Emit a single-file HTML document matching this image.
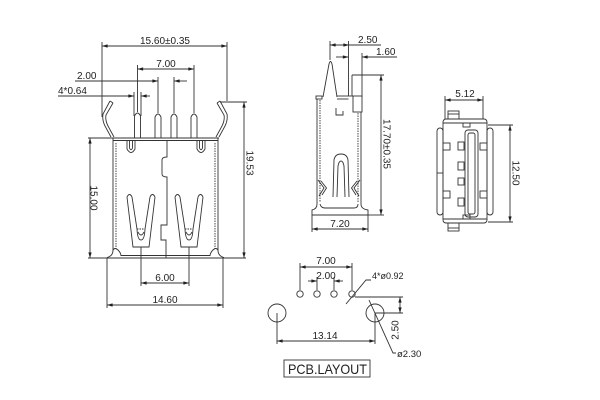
<!DOCTYPE html>
<html><head><meta charset="utf-8"><style>
html,body{margin:0;padding:0;background:#fff;}
svg{display:block;}
text{font-family:"Liberation Sans",Arial,sans-serif;font-size:10px;fill:#222;stroke:none;}
</style></head><body>
<svg width="600" height="400" viewBox="0 0 600 400" xmlns="http://www.w3.org/2000/svg">
<defs>
<marker id="a" viewBox="0 0 10 6" refX="10" refY="3" markerWidth="6" markerHeight="3.4" orient="auto-start-reverse" markerUnits="userSpaceOnUse"><path d="M0,0L10,3L0,6z" fill="#222"/></marker>
</defs>
<rect width="600" height="400" fill="#fff"/>
<g fill="none" stroke="#333" stroke-width="0.9">
<!-- ================= LEFT VIEW ================= -->
<!-- 15.60 -->
<line x1="102" y1="46" x2="227" y2="46" marker-start="url(#a)" marker-end="url(#a)"/>
<line x1="102" y1="42" x2="102" y2="117"/>
<line x1="227" y1="42" x2="227" y2="101"/>
<!-- 7.00 -->
<line x1="137.5" y1="69" x2="194" y2="69" marker-start="url(#a)" marker-end="url(#a)"/>
<line x1="137.5" y1="65" x2="137.5" y2="112"/>
<line x1="194" y1="65" x2="194" y2="113"/>
<!-- 2.00 -->
<line x1="75" y1="81" x2="158" y2="81" marker-end="url(#a)"/>
<line x1="187" y1="81" x2="174" y2="81" marker-end="url(#a)"/>
<line x1="158" y1="77" x2="158" y2="113"/>
<line x1="174" y1="77" x2="174" y2="113"/>
<!-- 4*0.64 -->
<line x1="58" y1="96" x2="134" y2="96" marker-end="url(#a)"/>
<line x1="150" y1="96" x2="141" y2="96" marker-end="url(#a)"/>
<line x1="134" y1="92" x2="134" y2="116"/>
<line x1="141" y1="92" x2="141" y2="116"/>
<!-- pins -->
<path d="M134.5,138 L134.5,116 Q137.5,110 140.5,116 L140.5,138"/>
<path d="M155,138 L155,117 Q158,111 161,117 L161,138"/>
<path d="M171,138 L171,117 Q174,111 177,117 L177,138"/>
<path d="M191,138 L191,117 Q194,111 197,117 L197,138"/>
<!-- side leads -->
<path d="M110,101 L103,114 Q102,120 105,126 L111,137"/>
<path d="M113,103 L106,115 Q105,120 108,126 L114,137"/>
<path d="M110,101 L113,103"/>
<path d="M220,101 L227,114 Q228,120 225,126 L219,137"/>
<path d="M217,103 L224,115 Q225,120 222,126 L216,137"/>
<path d="M220,101 L217,103"/>
<!-- body -->
<line x1="88" y1="138" x2="219" y2="138"/>
<line x1="113" y1="140.5" x2="218" y2="140.5"/>
<line x1="113" y1="138" x2="113" y2="251"/>
<line x1="218" y1="138" x2="218" y2="251"/>
<line x1="116" y1="143" x2="116" y2="249" stroke-dasharray="1.5 1"/>
<line x1="215" y1="143" x2="215" y2="249" stroke-dasharray="1.5 1"/>
<!-- hooks -->
<path d="M127,140.5 L127,149 Q131,156 135,149 L135,140.5"/>
<path d="M129.5,140.5 L129.5,148 Q131,151.5 132.5,148 L132.5,140.5"/>
<path d="M197,140.5 L197,149 Q201,156 205,149 L205,140.5"/>
<path d="M199.5,140.5 L199.5,148 Q201,151.5 202.5,148 L202.5,140.5"/>
<!-- center notch -->
<path d="M167,140.5 L167,157 Q162,157 162,160 L162,174 Q162,177 167,177 L167,225 L161,225 L161,240 L166,240 L166,258"/>
<!-- bottom -->
<line x1="88" y1="258" x2="246" y2="258"/>
<line x1="121" y1="255.5" x2="210" y2="255.5"/>
<path d="M113,250 Q113,256 107,257.5"/>
<path d="M113,250 Q115,247 118,250 Q121,253 121,256"/>
<path d="M218,250 Q218,256 224,257.5"/>
<path d="M218,250 Q216,247 213,250 Q210,253 210,256"/>
<!-- contacts -->
<g id="ct">
<path d="M127,197 L133,247 L149,247 L155,197"/>
<path d="M127,197 Q129.5,192 132,197"/>
<path d="M150,197 Q152.5,192 155,197"/>
<path d="M132,197 L137,229 Q137.5,240 141,240 Q144.5,240 145,229 L150,197"/>
<path d="M137,229 L145,229" stroke-dasharray="1.5 1"/>
<path d="M138,232 Q141,238 144,232"/>
</g>
<g transform="translate(48,0)">
<path d="M127,197 L133,247 L149,247 L155,197"/>
<path d="M127,197 Q129.5,192 132,197"/>
<path d="M150,197 Q152.5,192 155,197"/>
<path d="M132,197 L137,229 Q137.5,240 141,240 Q144.5,240 145,229 L150,197"/>
<path d="M137,229 L145,229" stroke-dasharray="1.5 1"/>
<path d="M138,232 Q141,238 144,232"/>
</g>
<!-- 15.00 -->
<line x1="90" y1="138" x2="90" y2="258" marker-start="url(#a)" marker-end="url(#a)"/>
<!-- 19.53 -->
<line x1="220" y1="102" x2="247" y2="102"/>
<line x1="244" y1="102" x2="244" y2="258" marker-start="url(#a)" marker-end="url(#a)"/>
<!-- 6.00 -->
<line x1="141" y1="247" x2="141" y2="286"/>
<line x1="189" y1="247" x2="189" y2="286"/>
<line x1="141" y1="283" x2="189" y2="283" marker-start="url(#a)" marker-end="url(#a)"/>
<!-- 14.60 -->
<line x1="107" y1="258" x2="107" y2="308"/>
<line x1="223" y1="258" x2="223" y2="308"/>
<line x1="107" y1="305" x2="223" y2="305" marker-start="url(#a)" marker-end="url(#a)"/>

<!-- ================= MIDDLE VIEW ================= -->
<line x1="330" y1="45" x2="349" y2="45" marker-start="url(#a)" marker-end="url(#a)"/>
<line x1="349" y1="45" x2="381" y2="45"/>
<line x1="330" y1="41" x2="330" y2="60"/>
<line x1="348.5" y1="41" x2="348.5" y2="96"/>
<line x1="336" y1="57" x2="348.5" y2="57" marker-end="url(#a)"/>
<line x1="397" y1="57" x2="362" y2="57" marker-end="url(#a)"/>
<line x1="362" y1="53" x2="362" y2="97"/>
<line x1="352" y1="75" x2="384" y2="75"/>
<line x1="381" y1="75" x2="381" y2="215" marker-start="url(#a)" marker-end="url(#a)"/>
<line x1="368" y1="215" x2="384" y2="215"/>
<!-- pin & top -->
<path d="M323,97 L329,64 Q330.5,59 332,64 L337,97"/>
<rect x="316" y="96" width="6" height="3"/>
<line x1="337" y1="96" x2="353" y2="96"/>
<line x1="337" y1="99" x2="348.5" y2="99"/>
<line x1="352" y1="75" x2="352" y2="96"/>
<rect x="353" y="96" width="9" height="16"/>
<!-- walls -->
<line x1="317" y1="99" x2="317" y2="204"/>
<line x1="320" y1="100" x2="320" y2="202" stroke-dasharray="1.5 1"/>
<line x1="361" y1="112" x2="361" y2="204"/>
<line x1="358" y1="113" x2="358" y2="202" stroke-dasharray="1.5 1"/>
<!-- U mark -->
<path d="M336,108 L336,115 L343,115 L343,111"/>
<!-- spring -->
<path d="M333,197 L334,160 Q335,154 341,154 Q347,154 348,160 L349,197"/>
<path d="M337,197 L338,166 Q339,161 341,161 Q343,161 344,166 L345,197"/>
<!-- latches -->
<path d="M318,180 L324,188 L319,196"/>
<path d="M321,181 L326.5,188 L322,195"/>
<path d="M360,180 L354,188 L359,196"/>
<path d="M357,181 L351.5,188 L356,195"/>
<!-- base -->
<path d="M317,204 Q317,209 312,210 L312,215 L368,215 L368,210 Q361,209 361,204"/>
<path d="M320,204 Q321,208 325,208 L354,208 Q358,208 358,204"/>
<line x1="312" y1="215" x2="312" y2="232"/>
<line x1="368" y1="215" x2="368" y2="232"/>
<line x1="312" y1="229" x2="368" y2="229" marker-start="url(#a)" marker-end="url(#a)"/>

<!-- ================= RIGHT VIEW ================= -->
<line x1="445" y1="96" x2="445" y2="119"/>
<line x1="483" y1="96" x2="483" y2="119"/>
<line x1="445" y1="100" x2="483" y2="100" marker-start="url(#a)" marker-end="url(#a)"/>
<rect x="443" y="119" width="44" height="104" rx="3"/>
<line x1="443" y1="123" x2="487" y2="123"/>
<line x1="443" y1="219" x2="487" y2="219"/>
<rect x="437" y="128" width="6" height="87" rx="3"/>
<line x1="437" y1="173" x2="443" y2="173"/>
<rect x="487" y="128" width="6" height="87" rx="3"/>
<rect x="448" y="111" width="11" height="8"/>
<line x1="448" y1="114" x2="459" y2="114"/>
<rect x="463" y="123" width="7" height="4"/>
<rect x="448" y="223" width="11" height="8"/>
<line x1="448" y1="228" x2="459" y2="228"/>
<rect x="463" y="215" width="7" height="4"/>
<rect x="465" y="130" width="13" height="87" rx="3"/>
<rect x="468" y="133" width="7" height="81" rx="2"/>
<rect x="443" y="143" width="7" height="7"/>
<rect x="443" y="191" width="7" height="7"/>
<rect x="458" y="142" width="6" height="8"/>
<rect x="458" y="162" width="6" height="8"/>
<rect x="458" y="178" width="6" height="7"/>
<rect x="458" y="198" width="6" height="8"/>
<rect x="480" y="143" width="7" height="7"/>
<rect x="480" y="191" width="7" height="7"/>
<line x1="488" y1="125" x2="513" y2="125"/>
<line x1="488" y1="222" x2="513" y2="222"/>
<line x1="510" y1="125" x2="510" y2="222" marker-start="url(#a)" marker-end="url(#a)"/>

<!-- ================= PCB LAYOUT ================= -->
<line x1="300" y1="263" x2="300" y2="290"/>
<line x1="352" y1="263" x2="352" y2="290"/>
<line x1="300" y1="267" x2="352" y2="267" marker-start="url(#a)" marker-end="url(#a)"/>
<line x1="317" y1="277" x2="317" y2="290"/>
<line x1="334" y1="277" x2="334" y2="290"/>
<line x1="308" y1="281" x2="317" y2="281" marker-end="url(#a)"/>
<line x1="343" y1="281" x2="334" y2="281" marker-end="url(#a)"/>
<circle cx="300" cy="294" r="3.2"/>
<circle cx="317" cy="294" r="3.2"/>
<circle cx="334" cy="294" r="3.2"/>
<circle cx="352" cy="294" r="3.2"/>
<path d="M346,304 L366,280 L371,280"/>
<circle cx="277" cy="313" r="9"/>
<circle cx="375" cy="313" r="9"/>
<line x1="277" y1="313" x2="277" y2="344"/>
<line x1="375" y1="313" x2="375" y2="344"/>
<line x1="277" y1="341" x2="375" y2="341" marker-start="url(#a)" marker-end="url(#a)"/>
<line x1="355" y1="297" x2="403" y2="297"/>
<line x1="375" y1="313" x2="403" y2="313"/>
<line x1="400" y1="297" x2="400" y2="313" marker-start="url(#a)" marker-end="url(#a)"/>
<path d="M369,300 L393,353 L396,353"/>
<rect x="284" y="360" width="86" height="17"/>
</g>

<!-- ================= TEXT ================= -->
<text x="165" y="44" text-anchor="middle">15.60±0.35</text>
<text x="166" y="67" text-anchor="middle">7.00</text>
<text x="77" y="79">2.00</text>
<text x="58" y="94">4*0.64</text>
<text transform="translate(94,198) rotate(90)" y="3.5" text-anchor="middle">15.00</text>
<text transform="translate(250,163) rotate(90)" y="3.5" text-anchor="middle">19.53</text>
<text x="165" y="281" text-anchor="middle">6.00</text>
<text x="165" y="303" text-anchor="middle">14.60</text>

<text x="358" y="43">2.50</text>
<text x="376" y="55">1.60</text>
<text transform="translate(387,144) rotate(90)" y="3.5" text-anchor="middle">17.70±0.35</text>
<text x="340" y="227" text-anchor="middle">7.20</text>

<text x="465" y="97" text-anchor="middle">5.12</text>
<text transform="translate(516,173) rotate(90)" y="3.5" text-anchor="middle">12.50</text>

<text x="326" y="264" text-anchor="middle">7.00</text>
<text x="326" y="279" text-anchor="middle">2.00</text>
<text x="372" y="279" style="font-size:9px">4*ø0.92</text>
<text x="325" y="339" text-anchor="middle">13.14</text>
<text transform="translate(395,330) rotate(-90)" y="3.5" text-anchor="middle">2.50</text>
<text x="397" y="357" style="font-size:9.5px">ø2.30</text>
<text x="288" y="374" style="font-size:14px" textLength="79" lengthAdjust="spacingAndGlyphs">PCB.LAYOUT</text>
</svg>
</body></html>
